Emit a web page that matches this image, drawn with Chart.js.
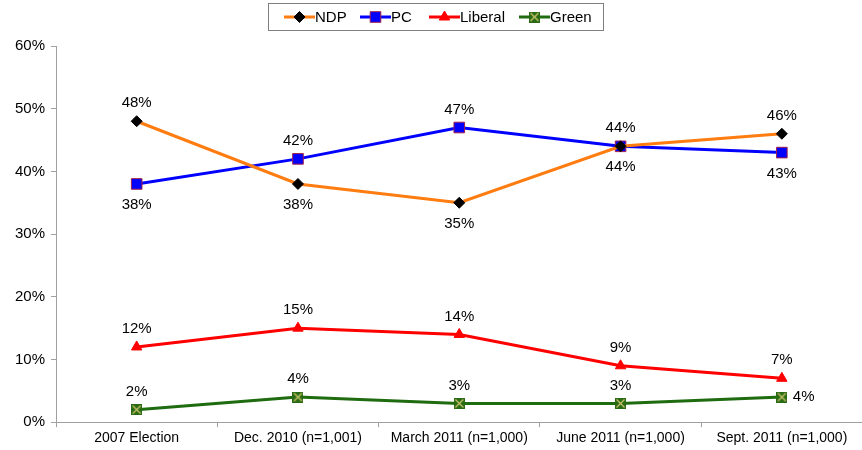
<!DOCTYPE html>
<html>
<head>
<meta charset="utf-8">
<script src="https://cdn.jsdelivr.net/npm/chart.js@4/dist/chart.umd.min.js"></script>
<style>
  html, body { margin: 0; padding: 0; background: #fff; overflow: hidden; }
  #wrap { width: 871px; height: 450px; }
</style>
</head>
<body>
<div id="wrap"><canvas id="poll"></canvas></div>
<script>
// data
const categories = ['2007 Election', 'Dec. 2010 (n=1,001)', 'March 2011 (n=1,000)', 'June 2011 (n=1,000)', 'Sept. 2011 (n=1,000)'];
const ndp = [48, 38, 35, 44, 46];
const pc = [38, 42, 47, 44, 43];
const liberal = [12, 15, 14, 9, 7];
const green = [2, 4, 3, 3, 4];
const yTicks = [0, 10, 20, 30, 40, 50, 60];

// where each value label sits relative to its point
const ndpLabelPos = ['above', 'below', 'below', 'below', 'above'];
const pcLabelPos = ['below', 'above', 'above', 'above', 'below'];
const liberalLabelPos = ['above', 'above', 'above', 'above', 'above'];
const greenLabelPos = ['above', 'above', 'above', 'above', 'right'];

const FONT = 'Liberation Sans, Arial, sans-serif';

// green square with a cross on it
const greenMarker = (() => {
    const c = document.createElement('canvas');
    c.width = 11; c.height = 11;
    const g = c.getContext('2d');
    g.fillStyle = '#2b6a14';
    g.fillRect(0, 0, 11, 11);
    g.strokeStyle = '#c9c46a';
    g.lineWidth = 1.3;
    g.beginPath();
    g.moveTo(1.5, 1.5); g.lineTo(9.5, 9.5);
    g.moveTo(9.5, 1.5); g.lineTo(1.5, 9.5);
    g.stroke();
    return c;
})();

const valueLabels = {
    id: 'valueLabels',
    afterDatasetsDraw(chart) {
        const ctx = chart.ctx;
        ctx.save();
        ctx.font = '15px ' + FONT;
        ctx.fillStyle = '#000';
        chart.data.datasets.forEach((ds, i) => {
            const meta = chart.getDatasetMeta(i);
            meta.data.forEach((pt, j) => {
                const pos = ds.labelPos[j];
                const txt = ds.data[j] + '%';
                ctx.textBaseline = 'middle';
                if (pos === 'right') {
                    ctx.textAlign = 'left';
                    ctx.fillText(txt, pt.x + 11, pt.y);
                } else {
                    ctx.textAlign = 'center';
                    ctx.fillText(txt, pt.x, pt.y + (pos === 'above' ? -18 : 21));
                }
            });
        });
        ctx.restore();
    }
};

const boxLegend = {
    id: 'boxLegend',
    afterDraw(chart) {
        const ctx = chart.ctx;
        ctx.save();
        ctx.strokeStyle = '#808080';
        ctx.lineWidth = 1;
        ctx.strokeRect(268.5, 3.5, 335, 27);
        ctx.font = '15px ' + FONT;
        ctx.textBaseline = 'middle';
        ctx.textAlign = 'left';
        const starts = [284, 360, 429, 519];
        const cy = 17;
        chart.data.datasets.forEach((ds, i) => {
            const x0 = starts[i];
            ctx.strokeStyle = ds.borderColor;
            ctx.lineWidth = 3;
            ctx.beginPath();
            ctx.moveTo(x0, cy);
            ctx.lineTo(x0 + 31, cy);
            ctx.stroke();
            if (ds.pointStyle instanceof HTMLCanvasElement) {
                ctx.drawImage(ds.pointStyle, x0 + 15.5 - 5.5, cy - 5.5);
            } else {
                ctx.fillStyle = ds.pointBackgroundColor;
                ctx.strokeStyle = ds.pointBorderColor;
                ctx.lineWidth = ds.pointBorderWidth;
                Chart.helpers.drawPoint(ctx, {
                    pointStyle: ds.pointStyle,
                    radius: ds.pointRadius,
                    borderWidth: ds.pointBorderWidth
                }, x0 + 15.5, cy);
            }
            ctx.fillStyle = '#000';
            ctx.fillText(ds.label, x0 + 31, cy + 1);
        });
        ctx.restore();
    }
};

const line = (label, data, color, style, fill, border, radius, pos) => ({
    label, data,
    borderColor: color,
    borderWidth: 3,
    pointStyle: style,
    pointBackgroundColor: fill,
    pointBorderColor: border,
    pointBorderWidth: 1,
    pointRadius: radius,
    pointHoverRadius: radius,
    tension: 0,
    labelPos: pos
});

new Chart(document.getElementById('poll'), {
    type: 'line',
    data: {
        labels: categories,
        datasets: [
            line('NDP', ndp, '#ff7c10', 'rectRot', '#000', '#000', 5.5, ndpLabelPos),
            line('PC', pc, '#0000ff', 'rect', '#0000ff', '#a0204a', 7.5, pcLabelPos),
            line('Liberal', liberal, '#ff0000', 'triangle', '#ff0000', '#ff0000', 6, liberalLabelPos),
            line('Green', green, '#1f6b10', greenMarker, '#2b6a14', '#c9c46a', 5, greenLabelPos)
        ]
    },
    options: {
        responsive: true,
        maintainAspectRatio: false,
        animation: false,
        layout: { padding: { top: 46, right: 0, left: 9, bottom: 0 } },
        plugins: {
            legend: { display: false },
            tooltip: { enabled: false }
        },
        scales: {
            x: {
                offset: true,
                grid: { drawOnChartArea: false, color: '#a0a0a0', tickLength: 5, offset: true },
                border: { color: '#a0a0a0' },
                ticks: { color: '#000', font: { family: FONT, size: 14 }, maxRotation: 0, autoSkip: false, padding: 3 }
            },
            y: {
                min: 0, max: 60,
                afterBuildTicks: axis => { axis.ticks = yTicks.map(v => ({ value: v })); },
                grid: { drawOnChartArea: false, color: '#a0a0a0', tickLength: 5 },
                border: { color: '#a0a0a0' },
                ticks: { color: '#000', font: { family: FONT, size: 15 }, padding: 6, callback: v => v + '%' }
            }
        }
    },
    plugins: [valueLabels, boxLegend]
});
</script>
</body>
</html>
